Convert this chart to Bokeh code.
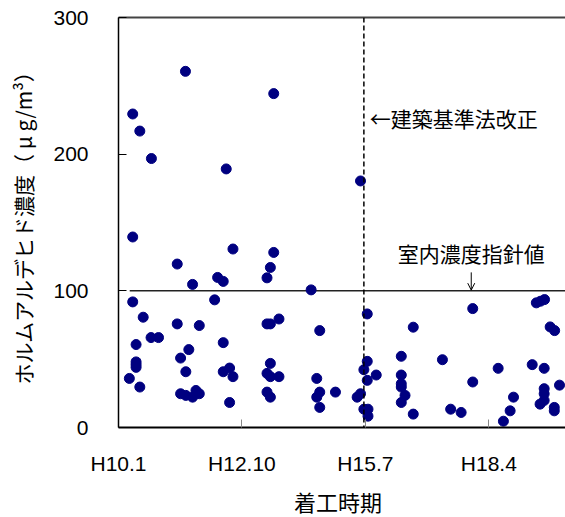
from bokeh.plotting import figure
from bokeh.models import Range1d, FixedTicker, LinearAxis, Arrow, OpenHead, Span, Div, Spacer
from bokeh.layouts import column, row
from bokeh.core.properties import value
from bokeh.embed import file_html
from bokeh.resources import INLINE

# months since H10.1 (Jan 1998)
months = [17.9, 41.5, 3.8, 5.7, 8.8, 28.8, 64.7,
          3.8, 30.6, 41.5, 15.7, 40.6, 19.8, 26.5, 28.0, 39.7, 51.5,
          3.8, 25.7, 6.6, 15.7, 21.6, 39.7, 40.6, 42.9, 53.8, 8.7, 10.7, 4.7, 28.0, 18.8, 16.6,
          4.7, 4.7, 4.7, 40.6, 18.0, 28.0, 29.7, 30.6, 39.7, 40.6, 42.9, 53.0, 2.9, 5.7, 16.6,
          18.0, 19.8, 20.7, 21.6, 29.7, 39.7, 40.6, 53.0, 53.8, 53.8, 58.0,
          94.7, 111.7, 112.8, 113.9, 66.5, 78.8, 115.4, 116.6, 75.6, 86.6, 66.5, 65.6, 68.9,
          66.5, 75.6, 75.6, 75.6, 76.6, 75.6, 78.8, 63.8, 64.7, 65.6, 66.7, 66.7, 94.7, 101.5,
          88.8, 91.6, 102.9, 104.7, 105.6, 110.6, 113.8, 113.8, 113.8, 113.8, 112.7, 116.5,
          116.5, 117.9]
conc = [260.6, 244.3, 229.4, 216.9, 196.8, 189.2, 180.4,
        139.4, 130.6, 128.1, 119.6, 117.1, 104.7, 109.8, 106.9, 109.5, 100.7,
        91.9, 93.4, 80.7, 75.8, 74.6, 75.8, 75.8, 79.4, 70.9, 65.8, 65.8, 60.7, 62.1, 57.0, 50.8,
        48.0, 46.0, 44.0, 46.9, 40.8, 40.8, 43.5, 37.2, 39.6, 37.2, 37.2, 35.9, 35.9, 29.6, 24.7,
        23.5, 22.2, 27.1, 24.7, 18.3, 25.9, 22.2, 22.2, 25.9, 14.7, 25.9,
        87.0, 91.2, 92.4, 93.6, 83.1, 73.4, 73.6, 70.9, 52.1, 49.6, 48.4, 42.3, 38.4,
        34.5, 38.4, 32.0, 29.6, 23.5, 18.3, 9.8, 22.2, 24.7, 13.4, 13.4, 8.3, 33.3, 43.3,
        13.4, 11.0, 4.6, 12.2, 22.2, 46.0, 43.3, 28.4, 24.7, 19.8, 17.1, 14.7,
        12.2, 31.0]

x_tick_pos = [0, 33, 66, 99]
x_tick_labels = ["H10.1", "H12.10", "H15.7", "H18.4"]
y_ticks = [0, 100, 200, 300]
guideline_value = 100
law_change_month = 65.6

jp = "Noto Sans CJK JP"
latin = "Liberation Sans"

p = figure(width=565, height=485, output_backend="svg", toolbar_location=None,
           x_range=Range1d(0, 119.5), y_range=Range1d(0, 300),
           min_border_left=118, min_border_right=0, min_border_top=17, min_border_bottom=58)
p.outline_line_color = None
p.xgrid.visible = False
p.ygrid.visible = False
p.background_fill_color = "white"
p.border_fill_color = "white"

xa = p.below[0]
xa.ticker = FixedTicker(ticks=x_tick_pos)
xa.major_label_overrides = {t: l for t, l in zip(x_tick_pos, x_tick_labels)}
xa.major_tick_in = 8
xa.major_tick_out = 0
xa.major_tick_line_color = "#888888"
xa.minor_tick_line_color = None
xa.axis_line_color = "black"
xa.axis_line_width = 2
xa.major_label_text_font = latin
xa.major_label_text_font_size = "21px"
xa.major_label_text_color = "black"
xa.major_label_standoff = 24

ya = p.left[0]
ya.ticker = FixedTicker(ticks=y_ticks)
ya.major_tick_in = 8
ya.major_tick_out = 0
ya.major_tick_line_color = "black"
ya.minor_tick_line_color = None
ya.axis_line_color = "black"
ya.axis_line_width = 1.5
ya.major_label_text_font = latin
ya.major_label_text_font_size = "21px"
ya.major_label_text_color = "black"
ya.major_label_standoff = 30
ya.axis_label = "ホルムアルデヒド濃度（ μ g/m³）"
ya.axis_label_text_font = jp
ya.axis_label_text_font_size = "21px"
ya.axis_label_text_font_style = "normal"
ya.axis_label_text_color = "black"
ya.axis_label_standoff = 12

# top border
top = LinearAxis(axis_line_color="#444444", axis_line_width=2,
                 major_tick_line_color=None, minor_tick_line_color=None,
                 major_tick_in=0, major_tick_out=0, major_label_standoff=0,
                 major_label_text_font_size="0px", major_label_text_color=None)
top.ticker = FixedTicker(ticks=[])
p.add_layout(top, "above")

# guideline at 100
p.line(x=[3.0, 119.5], y=[guideline_value, guideline_value], line_color="#222222", line_width=1.5)
# law revision dashed line
p.add_layout(Span(location=law_change_month, dimension="height", line_color="black",
                  line_width=1.5, line_dash="5 3"))

p.scatter(x=months, y=conc, size=10, marker="circle", fill_color="#000080", line_color="#000080")

p.text(x=[67.2], y=[226.6], text=["←建築基準法改正"], text_font=value(jp), text_font_size="21px",
       text_align="left", text_baseline="middle", text_color="black")
p.text(x=[94.3], y=[127.6], text=["室内濃度指針値"], text_font=value(jp), text_font_size="21px",
       text_align="center", text_baseline="middle", text_color="black")
p.add_layout(Arrow(end=OpenHead(size=7, line_width=1, line_color="black"),
                   x_start=94.3, y_start=113.5, x_end=94.3, y_end=100.5,
                   line_color="black", line_width=1))

# x axis title (着工時期) below the plot, centred on the plot area
xtitle = Div(text="着工時期", width=440, height=32,
             styles={"font-family": jp, "font-size": "22px", "line-height": "32px",
                     "text-align": "center", "color": "black", "margin": "0"})
bottom_row = row(Spacer(width=118, height=32), xtitle, spacing=0)

layout = column(p, bottom_row, spacing=0)
open("out.html", "w").write(file_html(layout, INLINE))
